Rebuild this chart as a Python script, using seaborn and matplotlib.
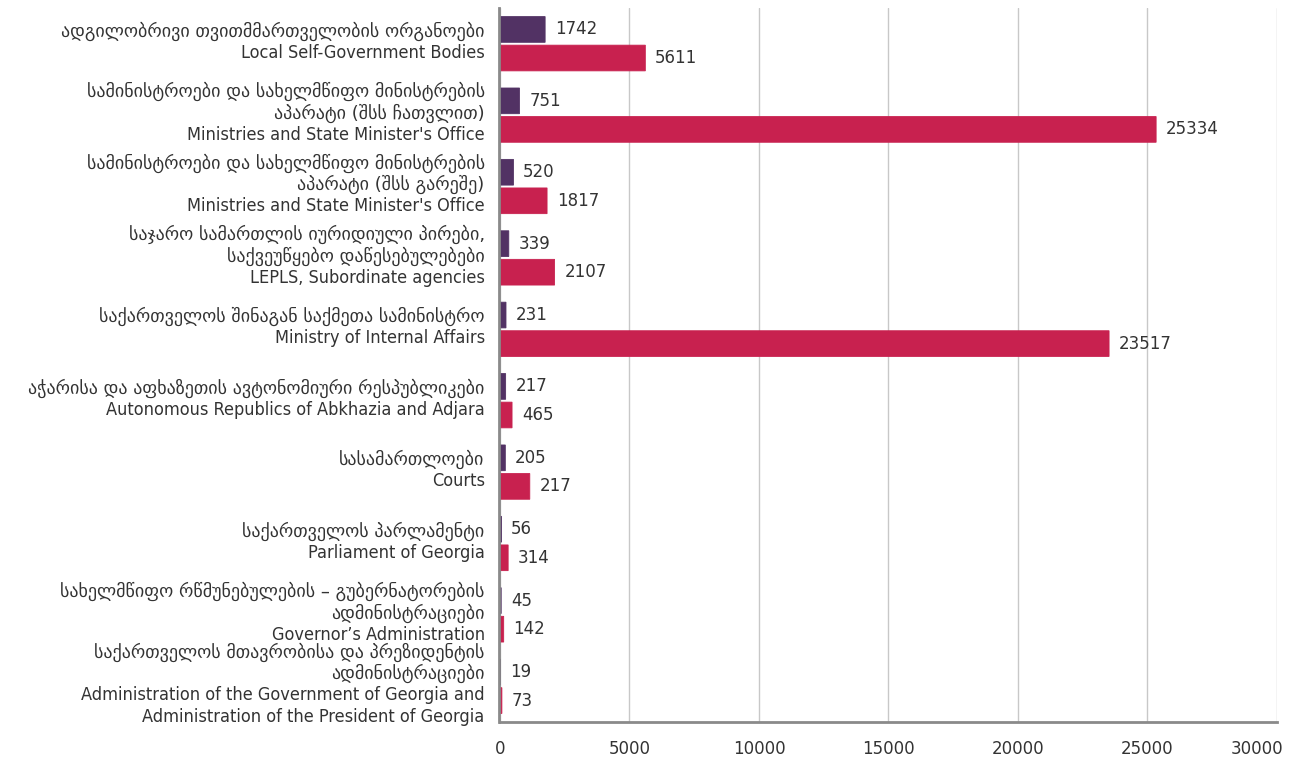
import pandas as pd
import seaborn as sns
import matplotlib.pyplot as plt
from matplotlib.transforms import ScaledTranslation

# category labels: Georgian part and English part
labels_ka = [
    "ადგილობრივი თვითმმართველობის ორგანოები",
    "სამინისტროები და სახელმწიფო მინისტრების\nაპარატი (შსს ჩათვლით)",
    "სამინისტროები და სახელმწიფო მინისტრების\nაპარატი (შსს გარეშე)",
    "საჯარო სამართლის იურიდიული პირები,\nსაქვეუწყებო დაწესებულებები",
    "საქართველოს შინაგან საქმეთა სამინისტრო",
    "აჭარისა და აფხაზეთის ავტონომიური რესპუბლიკები",
    "სასამართლოები",
    "საქართველოს პარლამენტი",
    "სახელმწიფო რწმუნებულების – გუბერნატორების\nადმინისტრაციები",
    "საქართველოს მთავრობისა და პრეზიდენტის\nადმინისტრაციები",
]
labels_en = [
    "Local Self-Government Bodies",
    "Ministries and State Minister's Office",
    "Ministries and State Minister's Office",
    "LEPLS, Subordinate agencies",
    "Ministry of Internal Affairs",
    "Autonomous Republics of Abkhazia and Adjara",
    "Courts",
    "Parliament of Georgia",
    "Governor’s Administration",
    "Administration of the Government of Georgia and\nAdministration of the President of Georgia",
]
categories = [f"{k}\n{e}" for k, e in zip(labels_ka, labels_en)]

# bar lengths as drawn
series_1 = [1742, 751, 520, 339, 231, 217, 205, 56, 45, 19]
series_2 = [5611, 25334, 1817, 2107, 23517, 465, 1150, 314, 142, 73]

# value labels as printed on the chart
labels_1 = ["1742", "751", "520", "339", "231", "217", "205", "56", "45", "19"]
labels_2 = ["5611", "25334", "1817", "2107", "23517", "465", "217", "314", "142", "73"]

df = pd.DataFrame({
    "category": categories * 2,
    "series": ["s1"] * len(categories) + ["s2"] * len(categories),
    "value": series_1 + series_2,
})

sns.set_style("white")
plt.rcParams['font.family'] = ['DejaVu Sans']

fig = plt.figure(figsize=(12.93, 7.58), dpi=100)
ax = fig.add_axes([0.3867, 0.0475, 0.6009, 0.9419])

sns.barplot(data=df, y="category", x="value", hue="series", orient="h",
            palette=["#523264", "#C8214F"], saturation=1, width=0.8, gap=0.1,
            legend=False, ax=ax)

# thin edge in the bar colour so the tiniest bars still show
for cont in ax.containers:
    for p in cont:
        p.set_edgecolor(p.get_facecolor())
        p.set_linewidth(0.6)
        p.set_snap(False)

for cont, labs in zip(ax.containers, [labels_1, labels_2]):
    ax.bar_label(cont, labels=labs, padding=7, fontsize=12, color="#333333")

ax.set_xlim(0, 30000)
ax.set_xticks(range(0, 30001, 5000))
ax.set_xlabel("")
ax.set_ylabel("")
ax.grid(axis="x", color="#c8c8c8", linewidth=1)
ax.set_axisbelow(True)
for side in ["top", "right"]:
    ax.spines[side].set_visible(False)
for side in ["left", "bottom"]:
    ax.spines[side].set_color("#8a8a8a")
    ax.spines[side].set_linewidth(2)
# keep the axis line just left of the bars so tiny bars stay visible
ax.spines["left"].set_position(("outward", 1))
ax.tick_params(axis="x", length=0, pad=13, labelsize=12, labelcolor="#333333")
ax.tick_params(axis="y", length=0)
# last x label pulled inside the figure
last = ax.get_xticklabels()[-1]
last.set_horizontalalignment("right")
last.set_transform(last.get_transform() + ScaledTranslation(0.06, 0, fig.dpi_scale_trans))

# y labels: Georgian lines in regular width, English lines condensed
ax.set_yticklabels([""] * len(categories))
fs = 13
lh = fs * 1.2
for i, (ka, en) in enumerate(zip(labels_ka, labels_en)):
    lines = [(t, "normal") for t in ka.split("\n")] + [(t, "condensed") for t in en.split("\n")]
    n = len(lines)
    for k, (txt, st) in enumerate(lines):
        ax.annotate(txt, xy=(0, i), xycoords=("axes fraction", "data"),
                    xytext=(-11, ((n - 1) / 2 - k) * lh + 1.3), textcoords="offset points",
                    ha="right", va="center", fontsize=fs, fontstretch=st,
                    color="#333333", annotation_clip=False)

fig.savefig("out.png", dpi=100)
